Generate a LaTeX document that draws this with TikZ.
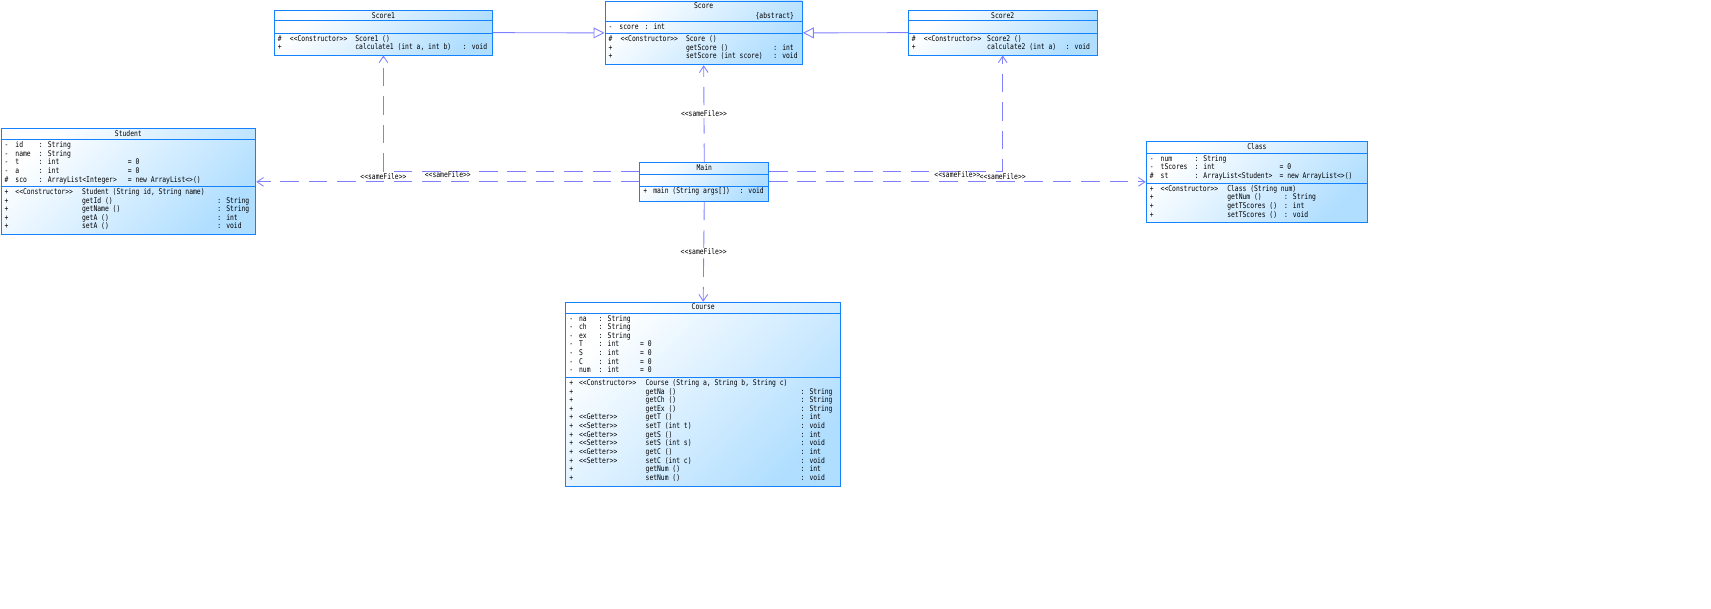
\documentclass[tikz,border=0pt]{standalone}
\usepackage{fontspec}
\usetikzlibrary{arrows.meta,positioning}
\newfontfamily\umlfont[FakeStretch=0.81,Ligatures=TeXOff]{DejaVu Sans Mono}
\definecolor{boxblue}{RGB}{20,130,255}
\definecolor{boxfill}{RGB}{176,222,255}
\definecolor{linkblue}{RGB}{128,128,255}
\newcommand{\umlcol}[2]{\makebox[0pt][l]{\hspace*{#1pt}\strut #2}}
\newcommand{\umlbox}[7]{%
  \node[classbox, minimum width=#4pt, minimum height=#5pt] (#1) at (#2,#3) {};
  \draw[rowline] (#1.west |- 0,#6) -- (#1.east |- 0,#6);
  \draw[rowline] (#1.west |- 0,#7) -- (#1.east |- 0,#7);
}
\tikzset{
  classbox/.style={draw=boxblue, line width=0.8pt, top color=white, bottom color=boxfill,
    shading angle=45, inner sep=0pt, anchor=north west},
  rowline/.style={draw=boxblue, line width=0.8pt},
  members/.style={font=\umlfont\fontsize{7.2}{7.9}\selectfont, align=left, inner sep=0pt, anchor=north west},
  classname/.style={font=\umlfont\fontsize{7.2}{7.9}\selectfont, inner sep=0pt, anchor=base},
  samefile/.style={draw=linkblue, line width=0.8pt, dash pattern=on 17pt off 9pt,
    -{Straight Barb[length=6pt,width=8pt]}},
  extends/.style={draw=linkblue, line width=0.8pt, -{Triangle[open,length=10pt,width=10pt,fill=white]}},
  lbl/.style={font=\umlfont\fontsize{7.2}{7.9}\selectfont, inner sep=1pt}
}
\begin{document}
\begin{tikzpicture}[x=1pt, y=-1pt]
\useasboundingbox (0,0) rectangle (1568,558);

\umlbox{score1}{251}{9}{200}{41}{19}{30.5}
\node[classname] (score1-name) at ([yshift=-7.5pt]score1.north) {Score1};
\node[members] (score1-ops) at (254,32) {%
  \umlcol{0}{\#}\umlcol{11}{<<Constructor>>}\umlcol{71}{Score1 ()}\\
  \umlcol{0}{+}\umlcol{71}{calculate1 (int a, int b)}\umlcol{169.5}{: void}};

\umlbox{score}{554}{0.5}{181}{58.5}{20}{31}
\node[classname] (score-name) at ([yshift=-7.5pt]score.north) {Score};
\node[classname, anchor=base east] (score-abs) at ([xshift=-8pt,yshift=-16.3pt]score.north east) {\{abstract\}};
\node[members] (score-attr) at (557,21.5) {\umlcol{0}{-}\umlcol{10}{score}\umlcol{33}{: int}};
\node[members] (score-ops) at (557,32.5) {%
  \umlcol{0}{\#}\umlcol{11}{<<Constructor>>}\umlcol{71}{Score ()}\\
  \umlcol{0}{+}\umlcol{71}{getScore ()}\umlcol{151}{: int}\\
  \umlcol{0}{+}\umlcol{71}{setScore (int score)}\umlcol{151}{: void}};

\umlbox{score2}{832}{9}{173}{41}{19}{30.5}
\node[classname] (score2-name) at ([yshift=-7.5pt]score2.north) {Score2};
\node[members] (score2-ops) at (835,32) {%
  \umlcol{0}{\#}\umlcol{11}{<<Constructor>>}\umlcol{69}{Score2 ()}\\
  \umlcol{0}{+}\umlcol{69}{calculate2 (int a)}\umlcol{141}{: void}};

\umlbox{student}{0.5}{117}{233.5}{97}{128}{171}
\node[classname] (student-name) at ([yshift=-7.8pt]student.north) {Student};
\node[members] (student-attr) at (3.5,129.5) {%
  \umlcol{0}{-}\umlcol{10}{id}\umlcol{31.5}{: String}\\
  \umlcol{0}{-}\umlcol{10}{name}\umlcol{31.5}{: String}\\
  \umlcol{0}{-}\umlcol{10}{t}\umlcol{31.5}{: int}\umlcol{113}{= 0}\\
  \umlcol{0}{-}\umlcol{10}{a}\umlcol{31.5}{: int}\umlcol{113}{= 0}\\
  \umlcol{0}{\#}\umlcol{10}{sco}\umlcol{31.5}{: ArrayList<Integer>}\umlcol{113}{= new ArrayList<>()}};
\node[members] (student-ops) at (3.5,172.5) {%
  \umlcol{0}{+}\umlcol{10}{<<Constructor>>}\umlcol{71}{Student (String id, String name)}\\
  \umlcol{0}{+}\umlcol{71}{getId ()}\umlcol{195}{: String}\\
  \umlcol{0}{+}\umlcol{71}{getName ()}\umlcol{195}{: String}\\
  \umlcol{0}{+}\umlcol{71}{getA ()}\umlcol{195}{: int}\\
  \umlcol{0}{+}\umlcol{71}{setA ()}\umlcol{195}{: void}};

\umlbox{main}{586}{148.5}{118}{35.5}{159.5}{170.5}
\node[classname] (main-name) at ([yshift=-7.5pt]main.north) {Main};
\node[members] (main-ops) at (589,172) {%
  \umlcol{0}{+}\umlcol{9}{main (String args[])}\umlcol{88}{: void}};

\umlbox{class}{1050}{129.5}{203}{73.5}{140.5}{168}
\node[classname] (class-name) at ([yshift=-7.5pt]class.north) {Class};
\node[members] (class-attr) at (1053,142) {%
  \umlcol{0}{-}\umlcol{10}{num}\umlcol{41}{: String}\\
  \umlcol{0}{-}\umlcol{10}{tScores}\umlcol{41}{: int}\umlcol{119}{= 0}\\
  \umlcol{0}{\#}\umlcol{10}{st}\umlcol{41}{: ArrayList<Student>}\umlcol{119}{= new ArrayList<>()}};
\node[members] (class-ops) at (1053,169.5) {%
  \umlcol{0}{+}\umlcol{10}{<<Constructor>>}\umlcol{71}{Class (String num)}\\
  \umlcol{0}{+}\umlcol{71}{getNum ()}\umlcol{123}{: String}\\
  \umlcol{0}{+}\umlcol{71}{getTScores ()}\umlcol{123}{: int}\\
  \umlcol{0}{+}\umlcol{71}{setTScores ()}\umlcol{123}{: void}};

\umlbox{course}{518}{276.5}{252}{168.5}{287}{346}
\node[classname] (course-name) at ([yshift=-7.5pt]course.north) {Course};
\node[members] (course-attr) at (521,288.5) {%
  \umlcol{0}{-}\umlcol{9}{na}\umlcol{27}{: String}\\
  \umlcol{0}{-}\umlcol{9}{ch}\umlcol{27}{: String}\\
  \umlcol{0}{-}\umlcol{9}{ex}\umlcol{27}{: String}\\
  \umlcol{0}{-}\umlcol{9}{T}\umlcol{27}{: int}\umlcol{65}{= 0}\\
  \umlcol{0}{-}\umlcol{9}{S}\umlcol{27}{: int}\umlcol{65}{= 0}\\
  \umlcol{0}{-}\umlcol{9}{C}\umlcol{27}{: int}\umlcol{65}{= 0}\\
  \umlcol{0}{-}\umlcol{9}{num}\umlcol{27}{: int}\umlcol{65}{= 0}};
\node[members] (course-ops) at (521,347.5) {%
  \umlcol{0}{+}\umlcol{9}{<<Constructor>>}\umlcol{70}{Course (String a, String b, String c)}\\
  \umlcol{0}{+}\umlcol{70}{getNa ()}\umlcol{212}{: String}\\
  \umlcol{0}{+}\umlcol{70}{getCh ()}\umlcol{212}{: String}\\
  \umlcol{0}{+}\umlcol{70}{getEx ()}\umlcol{212}{: String}\\
  \umlcol{0}{+}\umlcol{9}{<<Getter>>}\umlcol{70}{getT ()}\umlcol{212}{: int}\\
  \umlcol{0}{+}\umlcol{9}{<<Setter>>}\umlcol{70}{setT (int t)}\umlcol{212}{: void}\\
  \umlcol{0}{+}\umlcol{9}{<<Getter>>}\umlcol{70}{getS ()}\umlcol{212}{: int}\\
  \umlcol{0}{+}\umlcol{9}{<<Setter>>}\umlcol{70}{setS (int s)}\umlcol{212}{: void}\\
  \umlcol{0}{+}\umlcol{9}{<<Getter>>}\umlcol{70}{getC ()}\umlcol{212}{: int}\\
  \umlcol{0}{+}\umlcol{9}{<<Setter>>}\umlcol{70}{setC (int c)}\umlcol{212}{: void}\\
  \umlcol{0}{+}\umlcol{70}{getNum ()}\umlcol{212}{: int}\\
  \umlcol{0}{+}\umlcol{70}{setNum ()}\umlcol{212}{: void}};

\draw[extends] (score1.east) -- (score.west);
\draw[extends] (score2.west) -- (score.east);

\draw[samefile] ([yshift=10pt]main.west) -| node[lbl, pos=0.5, yshift=-5pt] {<<sameFile>>} (score1.south);
\draw[samefile] (main.west) -- node[lbl, yshift=6.5pt] {<<sameFile>>} (main.west -| student.east);
\draw[samefile] (main.north) -- node[lbl, fill=white] {<<sameFile>>} (score.south);
\draw[samefile] ([yshift=10pt]main.east) -| node[lbl, pos=0.5, yshift=-5.5pt] {<<sameFile>>} (score2.south);
\draw[samefile] (main.east) -- node[lbl, yshift=6.5pt] {<<sameFile>>} (main.east -| class.west);
\draw[samefile] (main.south) -- node[lbl, fill=white] {<<sameFile>>} (course.north);
\end{tikzpicture}
\end{document}
